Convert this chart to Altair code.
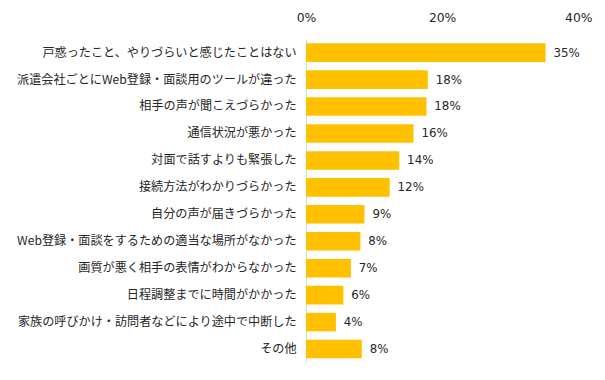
import altair as alt
import pandas as pd

categories = [
    "戸惑ったこと、やりづらいと感じたことはない",
    "派遣会社ごとにWeb登録・面談用のツールが違った",
    "相手の声が聞こえづらかった",
    "通信状況が悪かった",
    "対面で話すよりも緊張した",
    "接続方法がわかりづらかった",
    "自分の声が届きづらかった",
    "Web登録・面談をするための適当な場所がなかった",
    "画質が悪く相手の表情がわからなかった",
    "日程調整までに時間がかかった",
    "家族の呼びかけ・訪問者などにより途中で中断した",
    "その他",
]
values = [35.2, 17.9, 17.7, 15.8, 13.7, 12.3, 8.6, 8.0, 6.6, 5.5, 4.4, 8.2]
labels = ["35%", "18%", "18%", "16%", "14%", "12%", "9%", "8%", "7%", "6%", "4%", "8%"]
ticks = [0, 20, 40]

df = pd.DataFrame({"cat": categories, "val": values, "lab": labels})

FONT = "Noto Sans CJK JP"
NUMFONT = "DejaVu Sans"
TXT = "#262626"

y_enc = alt.Y(
    "cat:N",
    sort=categories,
    title=None,
    scale=alt.Scale(paddingInner=0.31, paddingOuter=0.16),
    axis=alt.Axis(
        ticks=False,
        domain=True,
        domainColor="#D9D9D9",
        domainWidth=1,
        labelPadding=10,
        labelFontSize=12.3,
        labelColor=TXT,
        labelFont=FONT,
        labelLimit=400,
    ),
)
x_enc = alt.X(
    "val:Q",
    title=None,
    scale=alt.Scale(domain=[0, 40], nice=False),
    axis=alt.Axis(
        orient="top",
        values=ticks,
        labelExpr="datum.value + '%'",
        ticks=False,
        domain=False,
        grid=False,
        labelPadding=15,
        labelFontSize=12.5,
        labelColor=TXT,
        labelFont=NUMFONT,
        labelFlush=False,
    ),
)

bars = alt.Chart(df).mark_bar(color="#FFC000").encode(x=x_enc, y=y_enc)
text = alt.Chart(df).mark_text(
    align="left", baseline="middle", dx=8, fontSize=12, font=NUMFONT, color=TXT
).encode(x="val:Q", y=alt.Y("cat:N", sort=categories), text="lab:N")

chart = (
    alt.layer(bars, text)
    .properties(
        width=276,
        height=328,
        autosize=alt.AutoSizeParams(type="none"),
        padding={"left": 302, "top": 29, "right": 19, "bottom": 7},
    )
    .configure_view(stroke=None)
)

chart.save("out.html", embed_options={"renderer": "svg", "actions": False})
